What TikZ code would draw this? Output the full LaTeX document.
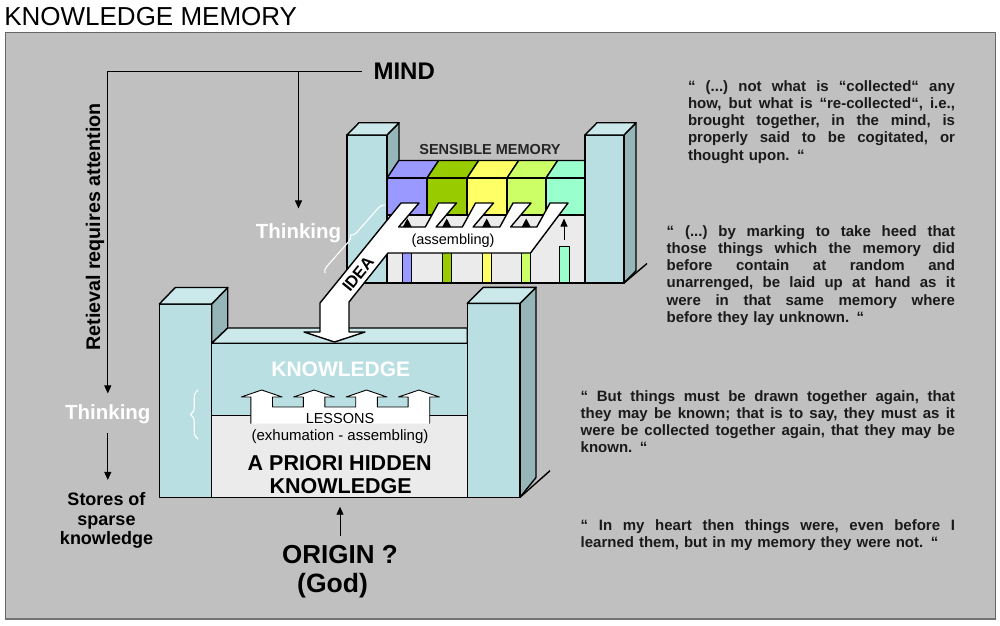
\documentclass[tikz,border=0pt]{standalone}
\usepackage{fontspec}
\setmainfont{Liberation Sans}
\usetikzlibrary{arrows.meta,decorations.pathreplacing}
\definecolor{panel}{HTML}{C0C0C0}
\definecolor{cyanf}{HTML}{BADFE3}
\definecolor{cyant}{HTML}{CBE8EB}
\definecolor{cyans}{HTML}{96B5B8}
\definecolor{lgray}{HTML}{EBEBEB}
\definecolor{cpurple}{HTML}{9999FF}
\definecolor{cgreen}{HTML}{99CC00}
\definecolor{cyellow}{HTML}{FFFF66}
\definecolor{clgreen}{HTML}{CCFF66}
\definecolor{cmint}{HTML}{99FFCC}
\definecolor{qtext}{HTML}{1A1A1A}
\newcommand\qjust[2]{\makebox[#1][s]{\frenchspacing\spaceskip=\fontdimen2\font plus 1fil minus 0.05em\xspaceskip=\spaceskip #2}}
\begin{document}
\begin{tikzpicture}[x=1pt,y=-1pt,line join=round,
  outl/.style={draw=black,line width=1.4pt},
  thinl/.style={draw=black,line width=0.9pt},
  conn/.style={draw=black,line width=0.9pt},
  arrowline/.style={conn,-{Triangle[length=8pt,width=7pt]}},
  lbl/.style={inner sep=0pt,outer sep=0pt},
  quotetxt/.style={lbl,anchor=north west,align=left,text=qtext,font=\bfseries\fontsize{15}{17.2}\selectfont},
  wbrace/.style={draw=white,line width=1.1pt,decorate,decoration={brace,amplitude=#1}},
]
\useasboundingbox (0,0) rectangle (1000,625);
\fill[white] (0,0) rectangle (1000,625);
\node[lbl,anchor=base west,font=\fontsize{26}{30}\selectfont] (title) at (4.3,25) {KNOWLEDGE MEMORY};
\path[fill=panel,draw=black!60,line width=1pt] (5.5,32.5) rectangle (995,619);
\draw[draw=black!55,line width=2pt] (5.5,619) -- (995,619);

% ---------- lower structure ----------
\filldraw[outl,fill=cyans] (211.7,304) -- (227.7,287.5) -- (227.7,328) -- (211.7,343.3) -- cycle;
\filldraw[outl,fill=cyant] (211.7,343.3) -- (227.7,328) -- (467.3,328) -- (467.3,343.3) -- cycle;
\filldraw[outl,fill=cyanf] (211.7,343.3) rectangle (467.3,415.5);
\filldraw[outl,fill=lgray] (211.7,415.5) rectangle (467.3,497.3);
\filldraw[outl,fill=cyanf] (159.3,304) rectangle (211.7,497.3);
\filldraw[outl,fill=cyant] (159.3,304) -- (175.3,287.5) -- (227.7,287.5) -- (211.7,304) -- cycle;
\filldraw[outl,fill=cyans] (520,303.3) -- (536,287.3) -- (536,477.5) -- (520,497.3) -- cycle;
\filldraw[outl,fill=cyanf] (467.3,303.3) rectangle (520,497.3);
\filldraw[outl,fill=cyant] (467.3,303.3) -- (483.3,287.3) -- (536,287.3) -- (520,303.3) -- cycle;
\draw[outl] (520,497.3) -- (550,470.7);
\coordinate (lowbot) at (340,497.3);

% lessons arrows
\filldraw[thinl,fill=white] (250.9,423.5) -- (250.9,397) -- (241.2,397) -- (261.7,390) -- (282.2,397) -- (272.5,397) -- (272.5,407) -- (303.3,407) -- (303.3,397) -- (293.6,397) -- (314.1,390) -- (334.6,397) -- (324.9,397) -- (324.9,407) -- (355.7,407) -- (355.7,397) -- (346,397) -- (366.5,390) -- (387,397) -- (377.3,397) -- (377.3,407) -- (408.1,407) -- (408.1,397) -- (398.4,397) -- (418.9,390) -- (439.4,397) -- (429.7,397) -- (429.7,423.5);

% ---------- upper structure ----------
\filldraw[outl,fill=cyans] (387,135) -- (399,122.7) -- (399,271) -- (387,283) -- cycle;
\filldraw[outl,fill=cyanf] (347,135) rectangle (387,283);
\filldraw[outl,fill=cyant] (347,135) -- (359,122.7) -- (399,122.7) -- (387,135) -- cycle;
\foreach \a/\b/\c in {387/427/cpurple,427/467/cgreen,467/507/cyellow,507/546/clgreen,546/585/cmint}{
  \filldraw[outl,fill=\c] (\a,178) -- (\a+11.7,160.5) -- (\b+11.7,160.5) -- (\b,178) -- cycle;
  \filldraw[outl,fill=\c] (\a,178) rectangle (\b,215);
}
\fill[lgray] (387,215) rectangle (585,283);
\foreach \x/\c in {407.3/cpurple,446.7/cgreen,486.7/cyellow,526.2/clgreen}
  \filldraw[thinl,fill=\c] (\x-4.5,245) rectangle (\x+4.5,283);
\filldraw[thinl,fill=cmint] (559.3,246) rectangle (569.3,283);
\draw[outl] (387,215) rectangle (585,283);
\coordinate (mintfrom) at (564,240);
\coordinate (mintto) at (564,218.5);
\draw[arrowline] (mintfrom) -- (mintto);
\filldraw[outl,fill=cyans] (624,135) -- (636,122.7) -- (636,270.7) -- (624,283) -- cycle;
\filldraw[outl,fill=cyanf] (585,135) rectangle (624,283);
\filldraw[outl,fill=cyant] (585,135) -- (597,122.7) -- (636,122.7) -- (624,135) -- cycle;
\draw[outl] (624,283) -- (647,263.5);

% white comb + IDEA arrow
\filldraw[outl,fill=white] (401,203) -- (419,203) -- (398.6,227) -- (425.3,227) -- (438.5,203) -- (456.5,203) -- (436.1,227) -- (462.3,227) -- (475.5,203) -- (493.5,203) -- (473.1,227) -- (499.8,227) -- (513,203) -- (531,203) -- (510.6,227) -- (536.8,227) -- (550,203) -- (568,203) -- (530.5,253) -- (388,253) -- (349,302) -- (349,332) -- (365,332) -- (334.5,342) -- (304,332) -- (320,332) -- (320,303) -- cycle;
\foreach \x in {407.3,446.7,486.7,526.2}
  \fill[black] (\x-4.5,227) -- (\x,218.5) -- (\x+4.5,227) -- cycle;

% ---------- texts in structures ----------
\node[lbl,font=\bfseries\fontsize{14.5}{17}\selectfont,text=black!85] (sensible) at (490,150) {SENSIBLE MEMORY};
\node[lbl,anchor=base,font=\fontsize{14.5}{17}\selectfont] (assem) at (453,244.3) {(assembling)};
\node[lbl,rotate=51,font=\bfseries\fontsize{16.5}{19}\selectfont] (idea) at (358,274) {IDEA};
\node[lbl,font=\bfseries\fontsize{21}{24}\selectfont,text=white] (know) at (340.8,369.3) {KNOWLEDGE};
\node[lbl,font=\fontsize{14.5}{17}\selectfont] (lessons) at (340,418) {LESSONS};
\node[lbl,anchor=base,font=\fontsize{15}{18}\selectfont] (exhum) at (340,440.5) {(exhumation - assembling)};
\node[lbl,anchor=base,font=\bfseries\fontsize{21.5}{24}\selectfont] (apriori) at (339.7,470) {A PRIORI HIDDEN};
\node[lbl,anchor=base,font=\bfseries\fontsize{21.5}{24}\selectfont] (hidknow) at (340.7,493.3) {KNOWLEDGE};

% ---------- left side ----------
\node[lbl,font=\bfseries\fontsize{24}{28}\selectfont] (mind) at (404.2,71.7) {MIND};
\node[lbl,anchor=base,font=\bfseries\fontsize{20.5}{24}\selectfont,text=white] (thinkU) at (298.5,238) {Thinking};
\node[lbl,anchor=base,font=\bfseries\fontsize{20.5}{24}\selectfont,text=white] (thinkL) at (107.8,419.3) {Thinking};
\node[lbl,anchor=north,align=center,font=\bfseries\fontsize{18}{19.5}\selectfont] (stores) at (106.5,492.9) {Stores of\\sparse\\knowledge};
\node[lbl,anchor=base,rotate=90,font=\bfseries\fontsize{19.7}{23}\selectfont] (retr) at (100,227) {Retieval requires attention};
\node[lbl,anchor=base,font=\bfseries\fontsize{26}{30}\selectfont] (origin) at (340,563.3) {ORIGIN ?};
\node[lbl,anchor=base,font=\bfseries\fontsize{26.5}{30}\selectfont] (god) at (332.5,592.3) {(God)};

\draw[arrowline,shorten <=11.7pt,shorten >=11pt] (mind.west) -| (thinkL.north);
\draw[arrowline,shorten >=14.7pt] (mind.west -| thinkU.north) -- (thinkU.north);
\draw[arrowline,shorten <=9.7pt,shorten >=13pt] (thinkL.south) -- (thinkL.south |- stores.north);
\draw[arrowline,shorten <=9.3pt,shorten >=9.4pt] (origin.north) -- (lowbot);

\draw[wbrace=6pt] (325,273) -- (385,205);
\draw[wbrace=7.5pt] (198,439) -- (198,390);

% ---------- quotes ----------
\node[quotetxt,text width=267pt] (q1) at (688,79.2) {\noindent\rule{0pt}{12pt}\qjust{267pt}{“ (...) not what is “collected“ any}\\
\qjust{267pt}{how, but what is “re-collected“, i.e.,}\\
\qjust{267pt}{brought together, in the mind, is}\\
\qjust{267pt}{properly said to be cogitated, or}\\
thought upon. “};
\node[quotetxt,text width=288.3pt] (q2) at (666.7,224.2) {\noindent\rule{0pt}{12pt}\qjust{288.3pt}{“ (...) by marking to take heed that}\\
\qjust{288.3pt}{those things which the memory did}\\
\qjust{288.3pt}{before contain at random and}\\
\qjust{288.3pt}{unarrenged, be laid up at hand as it}\\
\qjust{288.3pt}{were in that same memory where}\\
before they lay unknown. “};
\node[quotetxt,text width=374.3pt] (q3) at (580.7,389.2) {\noindent\rule{0pt}{12pt}\qjust{374.3pt}{“ But things must be drawn together again, that}\\
\qjust{374.3pt}{they may be known; that is to say, they must as it}\\
\qjust{374.3pt}{were be collected together again, that they may be}\\
known. “};
\node[quotetxt,text width=374.3pt] (q4) at (580.7,518.2) {\noindent\rule{0pt}{12pt}\qjust{374.3pt}{“ In my heart then things were, even before I}\\
learned them, but in my memory they were not. “};
\end{tikzpicture}
\end{document}
